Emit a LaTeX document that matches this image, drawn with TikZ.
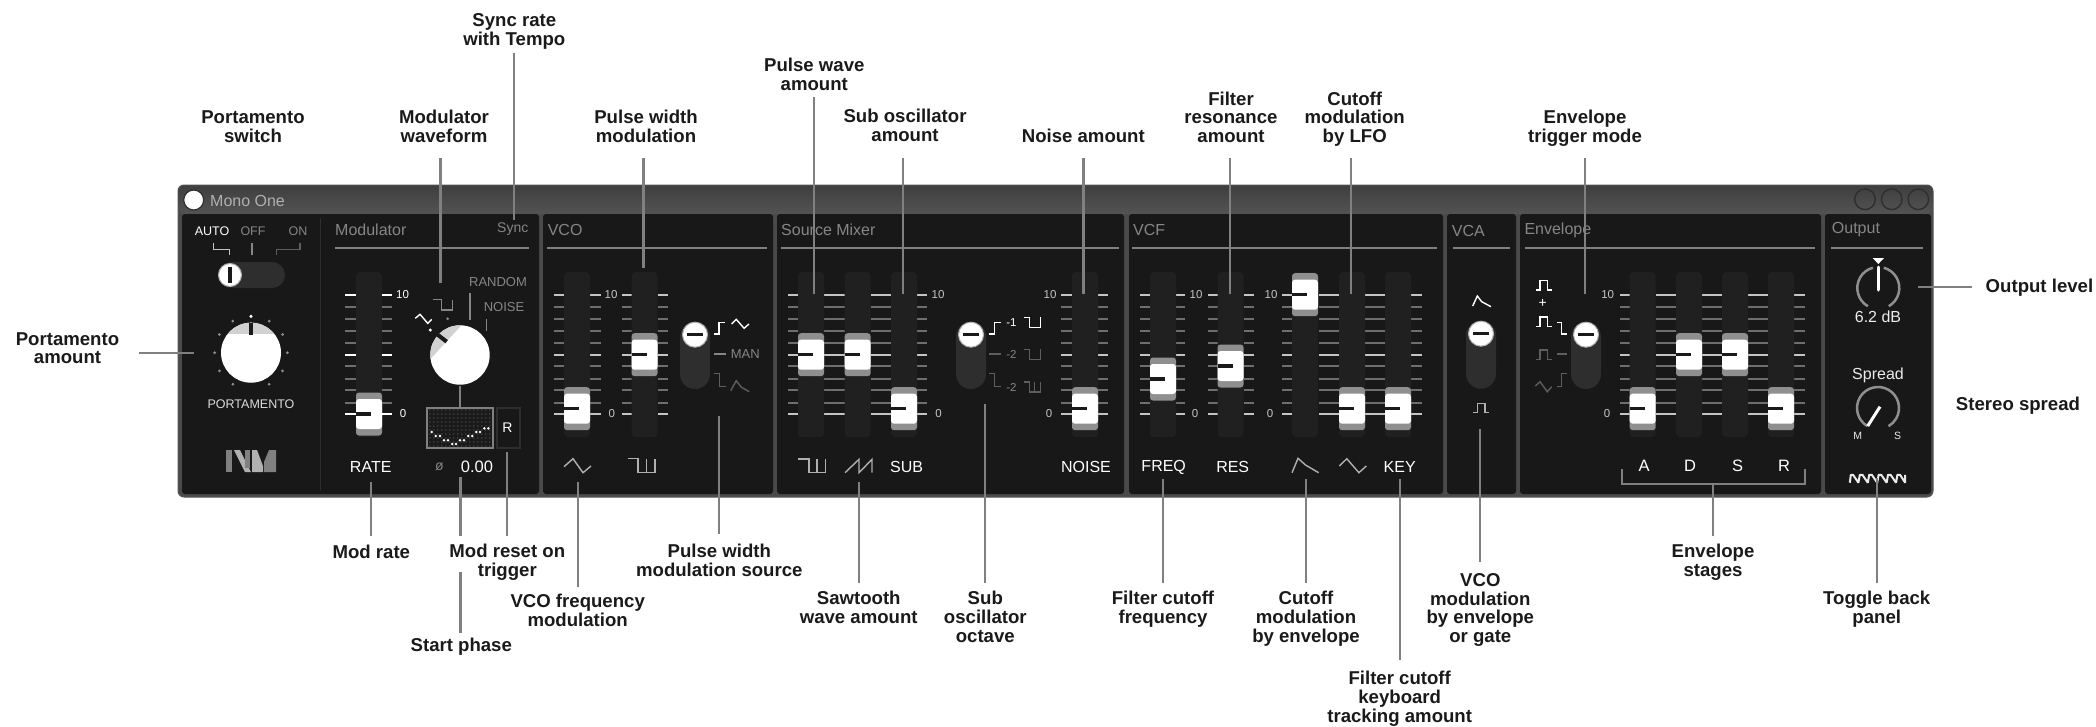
\documentclass[tikz,border=0pt]{standalone}
\usepackage{fontspec}
\setmainfont{Liberation Sans}
\definecolor{winc}{HTML}{4A4A4A}
\definecolor{winl}{HTML}{555555}
\definecolor{panelc}{HTML}{181818}
\definecolor{trackc}{HTML}{202020}
\definecolor{minorc}{HTML}{6E6E6E}
\definecolor{majorc}{HTML}{C4C4C4}
\definecolor{greyh}{HTML}{8F8F8F}
\definecolor{connc}{HTML}{808080}
\definecolor{inkc}{HTML}{1A1A1A}
\definecolor{pillc}{HTML}{2E2E2E}
\definecolor{captxt}{HTML}{868686}
\definecolor{dimc}{HTML}{5E5E5E}
\definecolor{iconc}{HTML}{B0B0B0}
\definecolor{gridc}{HTML}{363636}
\newcommand\ls{\rule[-4pt]{0pt}{14pt}}
\newcommand\Tks[3]{%
  \foreach \yy in {306.7,318.7,330.7,342.7,366,379,390,402.7}{\draw[tickm] (#1,\yy)--(#2,\yy);}
  \foreach \yy in {294.7,354.7,414}{\draw[tickm,draw=#3] (#1,\yy)--(#2,\yy);}
}
\newcommand\Trk[1]{\fill[trackc,rounded corners=4pt] (#1-13,272) rectangle (#1+13,437);}
\newcommand\Hnd[2]{%
  \fill[greyh,rounded corners=3pt] (#1-13,#2-21.5) rectangle (#1+13,#2+21.5);
  \fill[white,rounded corners=3pt] (#1-13,#2-15) rectangle (#1+13,#2+15);
  \fill[inkc] (#1-13,#2-1.6) rectangle (#1+2,#2+1.6);
}
\newcommand\Vsw[3]{%
  \fill[pillc,rounded corners=15pt] (#1-15,#2) rectangle (#1+15,#3);
  \draw[fill=white,draw=iconc,line width=1pt] (#1,#2+13) circle[radius=12.5pt];
  \fill[inkc] (#1-8,#2+11.4) rectangle (#1+8,#2+14.6);
}
\newcommand\Pulse[3]{\draw[iconl,draw=#3] (#1,#2)--(#1+6,#2)--(#1+6,#2+10)--(#1+17,#2+10)--(#1+17,#2);}
\tikzset{
  x=1pt,y=-1pt,
  conn/.style={draw=connc,line width=2.2pt},
  lab/.style={font=\fontsize{18.6}{18.7}\selectfont\bfseries,text=inkc,align=center,inner sep=0pt,outer sep=0pt},
  tickm/.style={draw=minorc,line width=1.8pt},
  iconl/.style={line width=1.4pt,draw=iconc},
  head/.style={font=\fontsize{16}{18}\selectfont,text=captxt,anchor=west,inner sep=0pt},
  small/.style={font=\fontsize{11.5}{13}\selectfont,text=majorc,inner sep=0pt},
  ctl/.style={font=\fontsize{16}{18}\selectfont,text=white,inner sep=0pt},
  captext/.style={font=\fontsize{13}{15}\selectfont,text=captxt,inner sep=0pt},
  hrule/.style={draw=connc,line width=1.6pt},
}
\begin{document}
\begin{tikzpicture}
\useasboundingbox (0,0) rectangle (2096,726);
\fill[white] (0,0) rectangle (2096,726);
% window
\fill[winc,rounded corners=6pt,draw=winl,line width=1pt] (178,185) rectangle (1933,497);
\shade[top color=winc!85!black,bottom color=winc!95!white,rounded corners=6pt] (178.5,214)--(178.5,185.5)--(1932.5,185.5)--(1932.5,214)--cycle;
\foreach \a/\b in {182/539,543/773,777/1124,1129/1443,1447/1516,1520/1821,1825/1931}{
  \fill[panelc,rounded corners=3pt] (\a,214) rectangle (\b,494);
}
\draw[pillc,line width=1pt] (320,218)--(320,490);
% title
\draw[fill=white,draw=pillc,line width=1.2pt] (193.7,200) circle[radius=10pt];
\node[head,font=\fontsize{16}{18}\selectfont,text=iconc] (title) at (210,200.5) {Mono One};
\foreach \cx in {1865,1891.7,1918.3}{\draw[draw=pillc,line width=1.4pt] (\cx,199.3) circle[radius=10.3pt];}
% headers
\node[head] (hMod) at (335,230) {Modulator};
\node[head,font=\fontsize{14}{16}\selectfont] (hSync) at (497,229) {Sync};
\node[head] (hVco) at (547.6,230) {VCO};
\node[head] (hMix) at (781,230) {Source Mixer};
\node[head] (hVcf) at (1133,230) {VCF};
\node[head] (hVca) at (1451.7,231) {VCA};
\node[head] (hEnv) at (1524.3,230) {Envelope};
\node[head] (hOut) at (1831.7,230) {Output};
\foreach \a/\b in {335/529,547/767,781/1119,1132/1437,1453/1510,1525/1815,1831/1922.7}{\draw[hrule] (\a,248)--(\b,248);}
% portamento section
\node[font=\fontsize{12.5}{14}\selectfont,text=white,inner sep=0pt] (auto) at (212,231) {AUTO};
\node[font=\fontsize{12.5}{14}\selectfont,text=captxt,inner sep=0pt] (off) at (253,231) {OFF};
\node[font=\fontsize{12.5}{14}\selectfont,text=captxt,inner sep=0pt] (on) at (298,231) {ON};
\draw[iconl,draw=majorc] (213.3,243.3)--(213.3,249.3)--(229.3,249.3)--(229.3,255.3);
\draw[iconl,draw=captxt] (252,243)--(252,255);
\draw[iconl,draw=dimc] (276.7,255.3)--(276.7,249.3)--(300,249.3)--(300,243.3);
\fill[pillc,rounded corners=13pt] (218.3,262) rectangle (285,288);
\draw[fill=white,draw=iconc,line width=1pt] (230,275) circle[radius=11.5pt];
\fill[inkc] (228,266.5) rectangle (232,283);
% portamento knob
\foreach \an in {0,30,60,120,150,180,210,240,300,330}{\fill[greyh] (251,352.7) ++(\an:36.4pt) circle[radius=1.5pt];}
\fill[white] (251,316.3) circle[radius=1.7pt];
\fill[white] (251,352.7) circle[radius=30pt];
\begin{scope}
  \clip (251,352.7) circle[radius=30pt];
  \fill[black!18] (215,320) rectangle (290,334.3);
\end{scope}
\fill[inkc] (249,323.3) rectangle (253,335);
\node[font=\fontsize{12.5}{14}\selectfont,text=majorc!60!white,inner sep=0pt] (lPorta) at (251,404) {PORTAMENTO};
% logo
\fill[connc] (226,450) rectangle (232,472);
\fill[iconc] (234,450)--(240,450)--(251,472)--(245,472)--cycle;
\fill[connc] (245,450) rectangle (250,468);
\fill[iconc] (252,472)--(252,450)--(257,450)--(263,466)--(263,472)--cycle;
\fill[connc] (264,472)--(264,462)--(269,450)--(276,450)--(276,472)--cycle;
% modulator
\Tks{345}{356}{white}
\Trk{369}
\Hnd{369}{414}
\node[small,text=white] (m10) at (402.5,294.7) {10};
\node[small,text=white] (m0) at (403,414) {0};
\node[ctl] (rate) at (370.7,467) {RATE};
\node[captext] (random) at (498,282) {RANDOM};
\node[captext] (noiseb) at (504,307) {NOISE};
\draw[iconl,draw=captxt] (470,293.3)--(470,320);
\draw[iconl,draw=captxt] (486.3,319)--(486.3,331);
\draw[iconl,draw=captxt] (433.3,299.3)--(441.3,299.3)--(441.3,310)--(452.3,310)--(452.3,300);
\fill[captxt] (447.7,318.7) circle[radius=1.5pt];
\draw[iconl,draw=white] (415.3,318.3)--(420,314.3)--(427.7,323.3)--(431.7,319.3);
\fill[white] (430.3,330) circle[radius=1.7pt];
\Tks{382}{392}{white}
\fill[white] (460,355) circle[radius=29.7pt];
\begin{scope}
  \clip (460,355) circle[radius=29.7pt];
  \fill[black!18] (461.7,325)--(430.7,358.7)--(420,358)--(420,320)--(470,318)--cycle;
\end{scope}
\draw[line width=4pt,draw=inkc] (436.7,334)--(446.7,341.7);
\draw[draw=connc,line width=1.8pt] (460,386)--(460,408);
% display
\fill[inkc,draw=connc,line width=2pt] (427.3,407.7) rectangle (492.7,448.3);
\foreach \gx in {0,...,15}{\foreach \gy in {0,...,9}{\fill[gridc] (429.8+4*\gx,410+4*\gy) circle[radius=1.1pt];}}
\foreach \ax/\ay in {335/516,347/528,360/528,372/541,384/541,397/552,408/552,420/541,432/541,445/528,457/528,469/516,480/516,493/505,505/505}{
  \fill[white] (320+\ax/3,260+\ay/3) circle[radius=1.4pt];
}
\draw[draw=pillc,line width=2pt] (496.7,407.7) rectangle (519.7,448.3);
\node[font=\fontsize{14}{16}\selectfont,text=white,inner sep=0pt] (rbtn) at (507.3,427.3) {R};
\node[captext,font=\fontsize{14}{16}\selectfont] (phi) at (439.3,467) {ø};
\node[ctl,font=\fontsize{16.5}{18}\selectfont] (phase) at (477,467) {0.00};
% VCO
\Tks{553.5}{564}{majorc}\Tks{590}{601}{majorc}\Tks{622}{631.5}{majorc}\Tks{657.5}{668}{majorc}
\Trk{577}\Trk{644.5}
\Hnd{577}{408.7}\Hnd{644.5}{354.7}
\node[small] (v10) at (611,294.7) {10};
\node[small] (v0) at (611.7,414) {0};
\Vsw{695}{321.7}{389}
\draw[iconl,draw=white] (724.8,322.3)--(718.8,322.3)--(718.8,334)--(713.7,334);
\draw[iconl,draw=white] (731.5,324)--(736.2,319.3)--(744.1,328.3)--(748.9,324);
\draw[iconl,draw=captxt] (713.7,354)--(725.5,354);
\node[captext] (man) at (745.3,354) {MAN};
\draw[iconl,draw=dimc] (713.7,373.3)--(719.6,373.3)--(719.6,386.7)--(725.5,386.7);
\draw[iconl,draw=dimc] (730.7,390.7)--(736.2,380.7)--(741.4,387.3)--(749.3,391.7);
\draw[iconl] (564,466.7)--(573,458.7)--(583,472.7)--(591,466);
\draw[iconl] (628,458.7)--(638,458.7)--(638,472.7)--(655,472.7)--(655,459);
\draw[iconl] (646.5,459)--(646.5,472.7);
% Source mixer
\Tks{788}{798}{majorc}\Tks{824}{844.6}{majorc}\Tks{870.6}{891}{majorc}\Tks{917}{927}{majorc}
\Tks{1061.4}{1072}{majorc}\Tks{1098}{1108}{majorc}
\Trk{811}\Trk{857.6}\Trk{904}\Trk{1085}
\Hnd{811}{354.7}\Hnd{857.6}{354.7}\Hnd{904}{408.7}\Hnd{1085}{408.7}
\node[small] (s10) at (938,294.7) {10};
\node[small] (s0) at (938.6,414) {0};
\node[small] (n10) at (1050,294.7) {10};
\node[small] (n0) at (1049,414) {0};
\Vsw{971}{321.7}{389}
\draw[iconl,draw=white] (1000.7,322.3)--(994.6,322.3)--(994.6,334)--(989,334);
\node[small,text=white] (o1) at (1011.5,322.7) {-1};
\Pulse{1023.7}{317.3}{white}
\draw[iconl,draw=dimc] (989,354)--(1001,354);
\node[small,text=captxt] (o2) at (1011.5,354) {-2};
\Pulse{1023.7}{349.3}{dimc}
\draw[iconl,draw=dimc] (989,373.3)--(994.6,373.3)--(994.6,386.7)--(1000.7,386.7);
\node[small,text=captxt] (o3) at (1011.5,387.5) {-2};
\Pulse{1023.7}{382}{dimc}
\draw[iconl,draw=dimc] (1034.5,382)--(1034.5,392);
\draw[iconl] (798,459)--(809,459)--(809,472.7)--(825.5,472.7)--(825.5,459);
\draw[iconl] (817,459)--(817,472.7);
\draw[iconl] (845,472.7)--(859,459.3)--(859,472.7)--(872,459.3)--(872,472.7);
\node[ctl] (sub) at (906.6,467) {SUB};
\node[ctl] (noisec) at (1086,467) {NOISE};
% VCF
\Tks{1140}{1150}{majorc}\Tks{1176}{1185.4}{majorc}\Tks{1208}{1217.5}{majorc}\Tks{1243.5}{1253.5}{majorc}
\Tks{1282}{1292}{majorc}\Tks{1318.6}{1338.5}{majorc}\Tks{1365}{1385}{majorc}\Tks{1411}{1421.8}{majorc}
\Trk{1163}\Trk{1230.5}\Trk{1305}\Trk{1352}\Trk{1398}
\Hnd{1163}{379}\Hnd{1230.5}{366}\Hnd{1305}{294.7}\Hnd{1352}{408.7}\Hnd{1398}{408.7}
\node[small] (f10) at (1196,294.7) {10};
\node[small] (f0) at (1195,414) {0};
\node[small] (g10) at (1271,294.7) {10};
\node[small] (g0) at (1270,414) {0};
\node[ctl] (freq) at (1163.7,467) {FREQ};
\node[ctl] (res) at (1232.7,467) {RES};
\draw[iconl] (1292,472.7)--(1298,458.3)--(1305.5,465)--(1318.6,472.7);
\draw[iconl] (1339.4,466)--(1346.8,458.7)--(1358.9,472.7)--(1366.3,466);
\node[ctl] (key) at (1399.7,467) {KEY};
% VCA
\draw[iconl,draw=white] (1472.7,306)--(1477.3,296)--(1481.7,301.7)--(1491,306.7);
\Vsw{1481}{320.7}{388.7}
\draw[iconl] (1473.3,412.7)--(1477.3,412.7)--(1477.3,403.3)--(1485,403.3)--(1485,412.7)--(1489,412.7);
% Envelope
\draw[iconl,draw=white] (1536,290)--(1540,290)--(1540,280.7)--(1547.3,280.7)--(1547.3,290)--(1551.7,290);
\node[font=\fontsize{14}{16}\selectfont,text=white,inner sep=0pt] (plus) at (1542.7,303) {+};
\draw[iconl,draw=white] (1536,326.7)--(1540,326.7)--(1540,317)--(1547.3,317)--(1547.3,326.7)--(1551.7,326.7);
\draw[iconl,draw=white] (1556.7,322.3)--(1561.7,322.3)--(1561.7,334)--(1567.3,334);
\draw[iconl,draw=dimc] (1536,359.3)--(1540,359.3)--(1540,350)--(1547.3,350)--(1547.3,359.3)--(1551.7,359.3);
\draw[iconl,draw=dimc] (1556.7,354)--(1567.3,354);
\draw[iconl,draw=dimc] (1535.3,386)--(1540,381.7)--(1547.3,391.7)--(1551.7,386.7);
\draw[iconl,draw=dimc] (1556.7,386.7)--(1561.7,386.7)--(1561.7,373.3)--(1567.3,373.3);
\Vsw{1586}{321.7}{389}
\Tks{1620}{1629.7}{majorc}\Tks{1655.7}{1676}{majorc}\Tks{1702}{1722}{majorc}\Tks{1748}{1768}{majorc}\Tks{1794}{1805}{majorc}
\Trk{1642.7}\Trk{1689}\Trk{1735}\Trk{1781}
\Hnd{1642.7}{408.7}\Hnd{1689}{354.7}\Hnd{1735}{354.7}\Hnd{1781}{408.7}
\node[small] (e10) at (1607.7,294.7) {10};
\node[small] (e0) at (1607,414) {0};
\node[ctl,font=\fontsize{16.5}{18}\selectfont] (eA) at (1644,466) {A};
\node[ctl,font=\fontsize{16.5}{18}\selectfont] (eD) at (1690,466) {D};
\node[ctl,font=\fontsize{16.5}{18}\selectfont] (eS) at (1737.7,466) {S};
\node[ctl,font=\fontsize{16.5}{18}\selectfont] (eR) at (1784,466) {R};
\draw[draw=connc,line width=1.8pt] (1621.7,469)--(1621.7,483.7)--(1805,483.7)--(1805,469);
% Output
\draw[draw=greyh,line width=2.5pt] (1878.3,288) ++(240:21pt) arc[start angle=240,end angle=105,radius=21pt];
\draw[draw=greyh,line width=2.5pt] (1878.3,288) ++(75:21pt) arc[start angle=75,end angle=-60,radius=21pt];
\draw[draw=white,line width=3pt,line cap=round] (1878.3,267)--(1878.3,290);
\fill[white] (1872.7,258)--(1884,258)--(1878.3,264)--cycle;
\node[font=\fontsize{16}{18}\selectfont,text=white!92!black,inner sep=0pt] (db) at (1878,317) {6.2 dB};
\node[font=\fontsize{16}{18}\selectfont,text=white!92!black,inner sep=0pt] (spread) at (1878,375.7) {Spread};
\draw[draw=greyh,line width=2.5pt] (1878,408) ++(240:21pt) arc[start angle=240,end angle=-60,radius=21pt];
\draw[draw=white,line width=3pt] (1880,406.7)--(1867.7,426);
\node[font=\fontsize{10.5}{12}\selectfont,text=white!92!black,inner sep=0pt] (sm) at (1857.7,435.7) {M};
\node[font=\fontsize{10.5}{12}\selectfont,text=white!92!black,inner sep=0pt] (ss) at (1897.7,435.7) {S};
\draw[draw=white!92!black,line width=2pt,line join=bevel] (1849.8,482.7)--(1850.8,474.8)--(1853,474.8)--(1858.4,482.7)--(1859.8,474.8)--(1862.4,474.8)--(1867.8,482.7)--(1869.2,474.8)--(1871.8,474.8)--(1877.2,482.7)--(1878.6,474.8)--(1881.2,474.8)--(1886.6,482.7)--(1888,474.8)--(1890.6,474.8)--(1896,482.7)--(1897.4,474.8)--(1900,474.8)--(1905.2,482.7)--(1905.2,474.8);
% target coordinates
\coordinate (tPortA) at (193.7,352.7);
\coordinate (tWave) at (440.4,283);
\coordinate (tSync) at (513.6,220);
\coordinate (tPwm) at (643.5,268);
\coordinate (tPulse) at (814.3,294);
\coordinate (tSub) at (902.7,294);
\coordinate (tNoise) at (1083.4,294);
\coordinate (tRes) at (1230,294);
\coordinate (tLfo) at (1350.8,294);
\coordinate (tTrig) at (1585,294);
\coordinate (tOut) at (1917.7,287);
\coordinate (tRate) at (371,482);
\coordinate (tPhase) at (460.4,477);
\coordinate (tPhaseB) at (460.4,535.7);
\coordinate (tPhaseC) at (460.4,571.7);
\coordinate (tReset) at (507.3,451.7);
\coordinate (tFm) at (577.7,482);
\coordinate (tSrc) at (718.7,416);
\coordinate (tSaw) at (858.7,482);
\coordinate (tOct) at (985.3,404);
\coordinate (tFreq) at (1163,479);
\coordinate (tEnvm) at (1306,479);
\coordinate (tKey) at (1399.7,479);
\coordinate (tVca) at (1480.3,429);
\coordinate (tStages) at (1713,484);
\coordinate (tBack) at (1877.3,478);
% labels
\node[lab,minimum height=43pt] (lSync) at (514.3,31.5) {\ls Sync rate\\\ls with Tempo};
\node[lab] (lPsw) at (253,128.5) {\ls Portamento\\\ls switch};
\node[lab,minimum height=59pt] (lWave) at (444,128.5) {\ls Modulator\\\ls waveform};
\node[lab,minimum height=59pt] (lPwm) at (646,128.5) {\ls Pulse width\\\ls modulation};
\node[lab,minimum height=41pt] (lPulse) at (814.3,76.5) {\ls Pulse wave\\\ls amount};
\node[lab,minimum height=60.6pt] (lSub) at (905,127.4) {\ls Sub oscillator\\\ls amount};
\node[lab,minimum height=39.4pt] (lNoise) at (1083.3,138) {\ls Noise amount};
\node[lab,minimum height=78pt] (lRes) at (1231,119) {\ls Filter\\\ls resonance\\\ls amount};
\node[lab,minimum height=78pt] (lLfo) at (1354.7,119) {\ls Cutoff\\\ls modulation\\\ls by LFO};
\node[lab,minimum height=59pt] (lTrig) at (1585,128.5) {\ls Envelope\\\ls trigger mode};
\node[lab,minimum width=143pt] (lPortA) at (67.5,350) {\ls Portamento\\\ls amount};
\node[lab,minimum height=35.2pt] (lRate) at (371.3,553.3) {\ls Mod rate};
\node[lab,minimum height=53.2pt] (lReset) at (507.3,562.3) {\ls Mod reset on\\\ls trigger};
\node[lab,minimum height=56.6pt] (lSrc) at (719.3,562.3) {\ls Pulse width\\\ls modulation source};
\node[lab,minimum height=28.6pt] (lPhase) at (461.3,647) {\ls Start phase};
\node[lab,minimum height=50pt] (lFm) at (577.7,612.3) {\ls VCO frequency\\\ls modulation};
\node[lab,minimum height=52.3pt] (lSaw) at (858.7,609.15) {\ls Sawtooth\\\ls wave amount};
\node[lab,minimum height=71.3pt] (lOct) at (985.3,618.65) {\ls Sub\\\ls oscillator\\\ls octave};
\node[lab,minimum height=52.3pt] (lFreq) at (1163,609.15) {\ls Filter cutoff\\\ls frequency};
\node[lab,minimum height=71.3pt] (lEnvm) at (1306,618.65) {\ls Cutoff\\\ls modulation\\\ls by envelope};
\node[lab,minimum height=76.7pt] (lKey) at (1399.7,698.65) {\ls Filter cutoff\\\ls keyboard\\\ls tracking amount};
\node[lab,minimum height=96.6pt] (lVca) at (1480.3,610) {\ls VCO\\\ls modulation\\\ls by envelope\\\ls or gate};
\node[lab,minimum height=53.2pt] (lStages) at (1713,562.3) {\ls Envelope\\\ls stages};
\node[lab,minimum height=53.6pt] (lBack) at (1876.7,609.5) {\ls Toggle back\\\ls panel};
\node[lab,anchor=west,inner xsep=13.7pt] (lOut) at (1972,288) {\ls Output level};
\node[lab] (lStereo) at (2018,406) {\ls Stereo spread};
% connectors
\draw[conn] (lPortA.east |- tPortA) -- (tPortA);
\draw[conn] (lSync.south -| tSync) -- (tSync);
\draw[conn] (lWave.south -| tWave) -- (tWave);
\draw[conn] (lPwm.south -| tPwm) -- (tPwm);
\draw[conn] (lPulse.south -| tPulse) -- (tPulse);
\draw[conn] (lSub.south -| tSub) -- (tSub);
\draw[conn] (lNoise.south -| tNoise) -- (tNoise);
\draw[conn] (lRes.south -| tRes) -- (tRes);
\draw[conn] (lLfo.south -| tLfo) -- (tLfo);
\draw[conn] (lTrig.south -| tTrig) -- (tTrig);
\draw[conn] (lOut.west |- tOut) -- (tOut);
\draw[conn] (lRate.north -| tRate) -- (tRate);
\draw[conn] (lReset.north -| tReset) -- (tReset);
\draw[conn] (tPhaseB) -- (tPhase);
\draw[conn] (lPhase.north -| tPhaseC) -- (tPhaseC);
\draw[conn] (lFm.north -| tFm) -- (tFm);
\draw[conn] (lSrc.north -| tSrc) -- (tSrc);
\draw[conn] (lSaw.north -| tSaw) -- (tSaw);
\draw[conn] (lOct.north -| tOct) -- (tOct);
\draw[conn] (lFreq.north -| tFreq) -- (tFreq);
\draw[conn] (lEnvm.north -| tEnvm) -- (tEnvm);
\draw[conn] (lKey.north -| tKey) -- (tKey);
\draw[conn] (lVca.north -| tVca) -- (tVca);
\draw[conn] (lStages.north -| tStages) -- (tStages);
\draw[conn] (lBack.north -| tBack) -- (tBack);
\end{tikzpicture}
\end{document}
